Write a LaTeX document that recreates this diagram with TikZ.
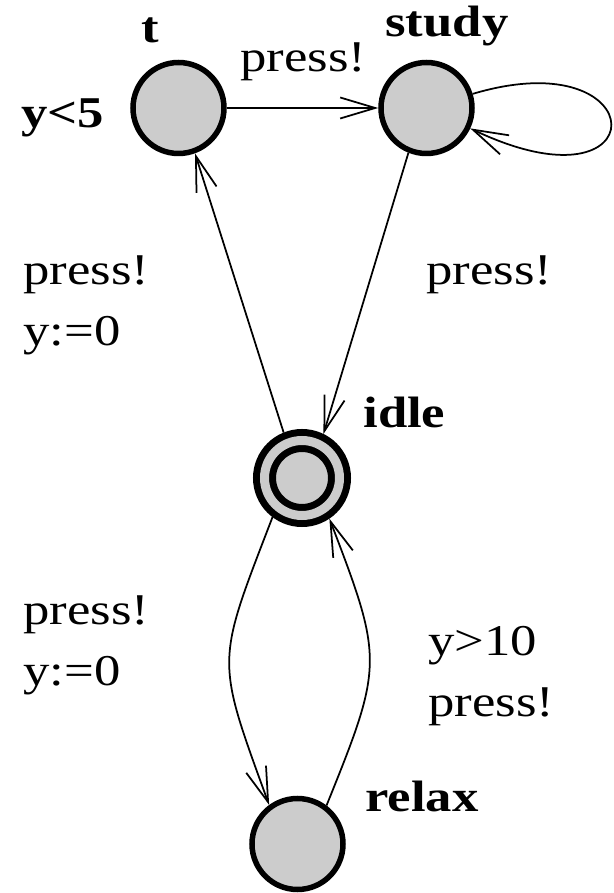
\documentclass[tikz,border=0pt]{standalone}
\usepackage{fontspec}
\setmainfont{Liberation Serif}[FakeStretch=1.2]
\usetikzlibrary{arrows.meta}

\begin{document}
\begin{tikzpicture}[
  loc/.style={circle,draw,line width=0.11cm,fill=black!20,minimum size=1.82cm,inner sep=0pt},
  init/.style={loc,line width=0.14cm,double=black!20,double distance=0.18cm,minimum size=1.5cm,outer sep=0.23cm},
  trans/.style={line width=0.035cm,-{Straight Barb[length=0.7cm,width=0.42cm]}},
  txt/.style={inner sep=0pt,anchor=base west,align=left,font=\fontsize{25}{35}\selectfont},
  locname/.style={txt,font=\fontsize{25}{30}\selectfont\bfseries}]
\useasboundingbox (0,0) rectangle (12.26,17.86);
% locations
\node[loc] (t) at (3.57,15.70) {};
\node[loc] (study) at (8.53,15.70) {};
\node[init] (idle) at (6.04,8.30) {};
\node[loc] (relax) at (5.95,0.98) {};
\node[locname] (tname) at (2.82,17.00) {t};
\node[locname] (studyname) at (7.70,17.12) {study};
\node[locname] (idlename) at (7.26,9.30) {idle};
\node[locname] (relaxname) at (7.30,1.62) {relax};
\node[locname] (tinv) at (0.42,15.30) {y<5};
% transitions
\draw[trans] (t)--(study);
\draw[trans] (study.17) .. controls +(3.67,1.1) and +(3.77,-1.8) .. (study.-25);
\draw[trans] (study.248)--(idle.64);
\draw[trans] (idle.112)--(t.-70);
\draw[trans] (idle.233) to[out=249,in=110,looseness=1.4] (relax.126);
\draw[trans] (relax.53) to[out=68,in=-69,looseness=1.35] (idle.-56);
% labels (base = last line)
\node[txt] (l1) at (4.80,16.42) {press!};
\node[txt] (l2) at (0.46,10.94) {press!\\y:=0};
\node[txt] (l3) at (8.52,12.16) {press!};
\node[txt] (l4) at (0.46,4.14) {press!\\y:=0};
\node[txt] (l5) at (8.56,3.52) {y>10\\press!};
\end{tikzpicture}
\end{document}
